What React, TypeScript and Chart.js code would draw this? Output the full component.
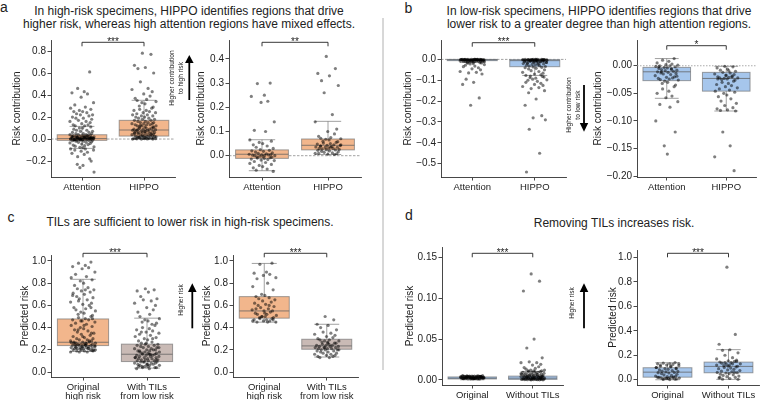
import React, { useEffect, useRef } from 'react';
import { Chart, registerables } from 'chart.js';

Chart.register(...registerables);

// ---------------- DATA ----------------
const LABELS_AB = ['Attention', 'HIPPO'];
const LABELS_C = [['Original', 'high risk'], ['With TILs', 'from low risk']];
const LABELS_D = ['Original', 'Without TILs'];

// box stats per group: [whisker low, q1, median, q3, whisker high]
const A1_BOX = [[-0.085, -0.012, 0.004, 0.039, 0.115], [0.0, 0.027, 0.082, 0.17, 0.352]];
const A2_BOX = [[-0.062, -0.011, 0.006, 0.024, 0.066], [0.005, 0.024, 0.043, 0.069, 0.142]];
const B1_BOX = [[-0.015, -0.006, -0.002, 0.0, 0.0], [-0.077, -0.035, -0.006, -0.001, 0.0]];
const B2_BOX = [[-0.059, -0.027, -0.011, -0.003, 0.013], [-0.082, -0.046, -0.023, -0.012, -0.001]];
const C1_BOX = [[0.185, 0.238, 0.268, 0.478, 0.835], [0.035, 0.094, 0.16, 0.251, 0.485]];
const C2_BOX = [[0.449, 0.485, 0.55, 0.679, 0.978], [0.135, 0.205, 0.235, 0.295, 0.43]];
const D1_BOX = [[0.0, 0.001, 0.002, 0.0035, 0.0048], [0.0, 0.0005, 0.002, 0.0045, 0.0102]];
const D2_BOX = [[0.0, 0.021, 0.062, 0.098, 0.139], [0.003, 0.057, 0.109, 0.144, 0.246]];

const A1_ATTENTION = [
  0.61, 0.46, 0.43, 0.42, 0.41, 0.38, 0.33, 0.31, 0.29, 0.28, 0.27, 0.26, 0.25, 0.25, 0.24, 0.23,
  0.22, 0.22, 0.21, 0.2, 0.19, 0.19, 0.18, 0.17, 0.16, 0.16, 0.15, 0.14, 0.13, 0.13, 0.12, 0.12,
  -0.3, -0.26, -0.24, -0.23, -0.2, -0.18, -0.16, -0.14, -0.13, -0.12, -0.11, -0.1, -0.1, -0.09, -0.09,
  0.11, 0.1, 0.1, 0.09, 0.08, 0.08, 0.07, 0.07, 0.06, 0.06, 0.05, 0.05, 0.05, 0.04, 0.04, 0.04, 0.035,
  0.03, 0.03, 0.03, 0.025, 0.02, 0.02, 0.02, 0.02, 0.015, 0.015, 0.01, 0.01, 0.01, 0.01, 0.005, 0.005,
  0.005, 0.0, 0.0, 0.0, 0.0, 0.0, -0.005, -0.005, -0.005, -0.01, -0.01, -0.01, -0.015, -0.015, -0.02,
  -0.02, -0.025, -0.03, -0.03, -0.035, -0.04, -0.045, -0.05, -0.055, -0.06, -0.065, -0.07, -0.075,
  -0.08, 0.012, 0.008, 0.003, -0.002, 0.018, 0.022, 0.028, 0.001, 0.006, -0.004, 0.014, 0.002,
  0.009, 0.004, -0.001, -0.007, 0.016, 0.024, 0.011, -0.003, 0.007, 0.019,
];
const A1_HIPPO = [
  0.78, 0.77, 0.67, 0.65, 0.64, 0.6, 0.52, 0.46, 0.45, 0.43, 0.41, 0.39, 0.37, 0.36,
  0.35, 0.34, 0.33, 0.32, 0.3, 0.29, 0.28, 0.27, 0.26, 0.26, 0.25, 0.24, 0.24, 0.23, 0.22, 0.22,
  0.21, 0.21, 0.2, 0.2, 0.19, 0.19, 0.18, 0.18, 0.17, 0.17, 0.16, 0.16, 0.15, 0.15, 0.15, 0.14,
  0.14, 0.14, 0.13, 0.13, 0.13, 0.12, 0.12, 0.12, 0.11, 0.11, 0.11, 0.1, 0.1, 0.1, 0.09, 0.09,
  0.09, 0.085, 0.08, 0.08, 0.08, 0.075, 0.07, 0.07, 0.07, 0.065, 0.06, 0.06, 0.06, 0.055, 0.05,
  0.05, 0.05, 0.045, 0.04, 0.04, 0.04, 0.035, 0.03, 0.03, 0.03, 0.025, 0.02, 0.02, 0.02, 0.015,
  0.015, 0.01, 0.01, 0.01, 0.008, 0.005, 0.005, 0.005, 0.003, 0.002, 0.001, 0.0, 0.0, 0.0,
  0.004, 0.007, 0.012, 0.018, 0.024, 0.033, 0.044, 0.058, 0.068, 0.088, 0.105, 0.125,
];
const A2_ATTENTION = [
  0.3, 0.298, 0.25, 0.245, 0.225, 0.22, 0.14, 0.105, 0.1, 0.065, 0.06, 0.055, 0.05, 0.045, 0.04,
  0.035, 0.03, 0.025, 0.022, 0.02, 0.018, 0.015, 0.012, 0.01, 0.008, 0.006, 0.005, 0.004, 0.003,
  0.002, 0.001, 0.0, 0.0, -0.002, -0.004, -0.005, -0.006, -0.008, -0.01, -0.012, -0.014, -0.016,
  -0.018, -0.02, -0.024, -0.028, -0.032, -0.036, -0.04, -0.045, -0.05, -0.055, -0.06, -0.065,
];
const A2_HIPPO = [
  0.41, 0.36, 0.34, 0.33, 0.31, 0.29, 0.26, 0.17, 0.14, 0.11, 0.1, 0.09, 0.08, 0.075, 0.072, 0.07,
  0.068, 0.065, 0.06, 0.058, 0.055, 0.052, 0.05, 0.048, 0.045, 0.043, 0.042, 0.04, 0.038, 0.036,
  0.035, 0.034, 0.032, 0.03, 0.03, 0.028, 0.026, 0.025, 0.024, 0.022, 0.02, 0.018, 0.016, 0.014,
  0.012, 0.01, 0.008, 0.006, 0.005, 0.01, 0.035, 0.04, 0.045,
];
const B1_ATTENTION = [
  0, 0, 0, 0, 0, 0, -0.001, -0.001, -0.001, -0.001, -0.002, -0.002, -0.002, -0.002, -0.003, -0.003,
  -0.003, -0.004, -0.004, -0.004, -0.005, -0.005, -0.005, -0.006, -0.006, -0.007, -0.007, -0.008,
  -0.008, -0.009, -0.01, -0.01, -0.011, -0.012, -0.013, -0.014, -0.001, -0.002, -0.003, 0, -0.001,
  -0.002, -0.004, -0.006, 0, 0, -0.001, -0.003, -0.005, -0.002, -0.001, 0, -0.002, -0.004,
  -0.22, -0.185, -0.12, -0.11, -0.095, -0.07, -0.065, -0.062, -0.058, -0.05, -0.045, -0.04, -0.035,
  -0.032, -0.028, -0.025, -0.022, -0.02, -0.018, -0.017, -0.016,
];
const B1_HIPPO = [
  0, 0, 0, 0, -0.001, -0.001, -0.001, -0.002, -0.002, -0.002, -0.003, -0.003, -0.004, -0.004,
  -0.005, -0.005, -0.006, -0.006, -0.007, -0.008, -0.009, -0.01, -0.011, -0.012, -0.013, -0.014,
  -0.015, -0.016, -0.018, -0.02, -0.022, -0.024, -0.026, -0.028, -0.03, -0.032, -0.034, -0.036,
  -0.038, -0.04, -0.043, -0.046, -0.05, -0.054, -0.058, -0.062, -0.066, -0.07, -0.074, -0.077, 0,
  -0.001, -0.002, -0.003, -0.004, -0.005, -0.001, -0.002, -0.003, -0.006, -0.008, -0.01, -0.012,
  -0.015, -0.02, -0.025, -0.002, -0.004, -0.001, 0,
  -0.54, -0.45, -0.335, -0.29, -0.28, -0.27, -0.22, -0.19, -0.16, -0.15, -0.14, -0.135, -0.13,
  -0.125, -0.12, -0.115, -0.11, -0.105, -0.1, -0.098, -0.095, -0.09, -0.088, -0.085, -0.082, -0.08,
];
const B2_ATTENTION = [
  0.013, 0.01, 0.008, 0.005, 0.003, 0.002, 0.001, 0.0, 0.0, -0.001, -0.002, -0.003, -0.004, -0.005,
  -0.006, -0.007, -0.008, -0.009, -0.01, -0.011, -0.012, -0.013, -0.014, -0.015, -0.016, -0.018,
  -0.02, -0.021, -0.022, -0.023, -0.024, -0.025, -0.026, -0.028, -0.03, -0.032, -0.035, -0.038,
  -0.042, -0.046, -0.05, -0.055, -0.058, -0.065, -0.07, -0.075, -0.1, -0.12, -0.145, -0.16, -0.002,
  -0.006, -0.011, -0.019,
];
const B2_HIPPO = [
  -0.001, -0.002, -0.004, -0.006, -0.008, -0.01, -0.012, -0.013, -0.015, -0.016, -0.018, -0.019,
  -0.02, -0.021, -0.022, -0.022, -0.023, -0.024, -0.025, -0.026, -0.028, -0.03, -0.032, -0.034,
  -0.036, -0.038, -0.04, -0.042, -0.044, -0.046, -0.048, -0.05, -0.053, -0.056, -0.06, -0.064,
  -0.068, -0.072, -0.076, -0.078, -0.08, -0.081, -0.082, -0.12, -0.145, -0.165, -0.19, -0.017,
  -0.02, -0.024, -0.009,
];
const C1_ORIGINAL = [
  0.99, 0.98, 0.96, 0.95, 0.94, 0.93, 0.9, 0.88, 0.86, 0.85, 0.83, 0.82, 0.8, 0.78, 0.76, 0.75,
  0.74, 0.73, 0.72, 0.71, 0.7, 0.68, 0.67, 0.66, 0.65, 0.63, 0.62, 0.61, 0.6, 0.58, 0.57, 0.56,
  0.55, 0.54, 0.53, 0.52, 0.51, 0.5, 0.49, 0.48, 0.47, 0.47, 0.46, 0.45, 0.44, 0.43, 0.42, 0.41,
  0.4, 0.39, 0.38, 0.37, 0.36, 0.35, 0.34, 0.33, 0.32, 0.31, 0.3, 0.3, 0.29, 0.29, 0.28, 0.28,
  0.27, 0.27, 0.27, 0.26, 0.26, 0.26, 0.25, 0.25, 0.25, 0.25, 0.24, 0.24, 0.24, 0.24, 0.23, 0.23,
  0.23, 0.23, 0.22, 0.22, 0.22, 0.22, 0.21, 0.21, 0.21, 0.21, 0.2, 0.2, 0.2, 0.2, 0.19, 0.19, 0.19,
  0.18, 0.18, 0.18, 0.35, 0.32, 0.28, 0.26, 0.24, 0.22, 0.2, 0.46, 0.42, 0.38, 0.48, 0.58, 0.64,
  0.74, 0.69, 0.215, 0.225, 0.235, 0.245, 0.255, 0.265, 0.195, 0.205,
];
const C1_WITH_TILS = [
  0.75, 0.74, 0.73, 0.72, 0.68, 0.66, 0.65, 0.64, 0.62, 0.6, 0.58, 0.56, 0.54, 0.52, 0.5, 0.48,
  0.47, 0.46, 0.45, 0.44, 0.42, 0.4, 0.39, 0.38, 0.37, 0.36, 0.35, 0.34, 0.33, 0.32, 0.31, 0.3,
  0.29, 0.28, 0.27, 0.26, 0.25, 0.25, 0.24, 0.24, 0.23, 0.23, 0.22, 0.22, 0.21, 0.21, 0.2, 0.2,
  0.2, 0.19, 0.19, 0.18, 0.18, 0.18, 0.17, 0.17, 0.17, 0.16, 0.16, 0.16, 0.15, 0.15, 0.15, 0.14,
  0.14, 0.14, 0.13, 0.13, 0.13, 0.12, 0.12, 0.12, 0.11, 0.11, 0.11, 0.1, 0.1, 0.1, 0.09, 0.09,
  0.09, 0.08, 0.08, 0.08, 0.07, 0.07, 0.07, 0.06, 0.06, 0.06, 0.05, 0.05, 0.05, 0.04, 0.04, 0.04,
  0.03, 0.03, 0.3, 0.26, 0.22, 0.19, 0.16, 0.13, 0.11, 0.09, 0.07, 0.05, 0.43, 0.36,
];
const C2_ORIGINAL = [
  0.98, 0.97, 0.9, 0.89, 0.88, 0.87, 0.85, 0.84, 0.8, 0.77, 0.74, 0.7, 0.69, 0.68, 0.67, 0.66,
  0.65, 0.64, 0.63, 0.62, 0.61, 0.6, 0.59, 0.58, 0.57, 0.56, 0.55, 0.55, 0.54, 0.53, 0.52, 0.52,
  0.51, 0.5, 0.5, 0.49, 0.49, 0.48, 0.48, 0.47, 0.47, 0.46, 0.46, 0.45, 0.45, 0.45, 0.46, 0.47,
  0.5, 0.53, 0.57, 0.6,
];
const C2_WITH_TILS = [
  0.5, 0.47, 0.43, 0.42, 0.4, 0.38, 0.36, 0.35, 0.34, 0.33, 0.32, 0.31, 0.3, 0.29, 0.29, 0.28,
  0.28, 0.27, 0.27, 0.26, 0.26, 0.25, 0.25, 0.24, 0.24, 0.24, 0.23, 0.23, 0.23, 0.22, 0.22, 0.22,
  0.21, 0.21, 0.21, 0.2, 0.2, 0.2, 0.19, 0.19, 0.18, 0.18, 0.17, 0.17, 0.16, 0.16, 0.15, 0.15,
  0.14, 0.14, 0.13, 0.13, 0.2, 0.22, 0.26,
];
const D1_ORIGINAL = [
  0.001, 0.0012, 0.0015, 0.0018, 0.002, 0.0022, 0.0025, 0.0028, 0.003, 0.0032, 0.0035, 0.0038,
  0.004, 0.0042, 0.0045, 0.0048, 0.005, 0.0011, 0.0014, 0.0017, 0.0021, 0.0024, 0.0027, 0.0031,
  0.0034, 0.0037, 0.0041, 0.0044, 0.0047, 0.0013, 0.0016, 0.0019, 0.0023, 0.0026, 0.0029, 0.0033,
  0.0036, 0.0039, 0.0043, 0.0046, 0.0049, 0.001, 0.002, 0.003, 0.004, 0.0015, 0.0025, 0.0035,
  0.0045, 0.0012, 0.0022, 0.0032, 0.0042, 0.0018, 0.0028, 0.0038, 0.0048, 0.0014, 0.0024, 0.0034,
];
const D1_WITHOUT_TILS = [
  0.13, 0.121, 0.109, 0.05, 0.039, 0.027, 0.022, 0.021, 0.021, 0.019, 0.018, 0.016, 0.015, 0.014,
  0.013, 0.012, 0.012, 0.011, 0.011, 0.011, 0.01, 0.01, 0.01, 0.009, 0.009, 0.009, 0.008, 0.008,
  0.008, 0.007, 0.007, 0.007, 0.006, 0.006, 0.006, 0.006, 0.005, 0.005, 0.005, 0.005, 0.005, 0.004,
  0.004, 0.004, 0.004, 0.004, 0.003, 0.003, 0.003, 0.003, 0.003, 0.003, 0.002, 0.002, 0.002, 0.002,
  0.002, 0.002, 0.002, 0.001, 0.001, 0.001, 0.001, 0.001, 0.001, 0.0005, 0.0005, 0.0005, 0.0003,
  0.0003, 0.0002, 0.0001, 0.0001, 0, 0, 0, 0.0015, 0.0025, 0.0035, 0.0045, 0.0055, 0.0065, 0.0075,
  0.0012, 0.0022, 0.0032,
];
const D2_ORIGINAL = [
  0.14, 0.135, 0.13, 0.13, 0.125, 0.12, 0.115, 0.11, 0.105, 0.1, 0.095, 0.09, 0.085, 0.08, 0.075,
  0.07, 0.068, 0.065, 0.06, 0.058, 0.055, 0.05, 0.045, 0.04, 0.035, 0.03, 0.028, 0.025, 0.022, 0.02,
  0.018, 0.016, 0.014, 0.012, 0.01, 0.008, 0.006, 0.004, 0.002, 0.001, 0.02, 0.015, 0.01, 0.13,
  0.12, 0.11, 0.1, 0.09,
];
const D2_WITHOUT_TILS = [
  0.92, 0.37, 0.29, 0.245, 0.24, 0.22, 0.2, 0.18, 0.17, 0.16, 0.155, 0.15, 0.145, 0.14, 0.135,
  0.13, 0.125, 0.12, 0.115, 0.11, 0.105, 0.1, 0.095, 0.09, 0.085, 0.08, 0.075, 0.07, 0.065, 0.06,
  0.058, 0.055, 0.05, 0.045, 0.04, 0.035, 0.03, 0.025, 0.02, 0.015, 0.01, 0.005, 0.003, 0.14, 0.13,
  0.12, 0.15, 0.11, 0.06, 0.02,
];

const TICKS_A1 = [-0.2, 0, 0.2, 0.4, 0.6, 0.8];
const TICKS_A2 = [0, 0.1, 0.2, 0.3, 0.4];
const TICKS_B1 = [-0.5, -0.4, -0.3, -0.2, -0.1, 0];
const TICKS_B2 = [-0.2, -0.15, -0.1, -0.05, 0];
const TICKS_C = [0, 0.2, 0.4, 0.6, 0.8, 1.0];
const TICKS_D1 = [0, 0.05, 0.1, 0.15];
const TICKS_D2 = [0, 0.2, 0.4, 0.6, 0.8, 1.0];

// stripplot jitter pattern (fraction of max jitter)
const JITTER = [
  0.62, -0.35, 0.18, -0.81, 0.44, -0.07, 0.93, -0.58, 0.27, -0.92, 0.71, -0.21, 0.05, -0.66, 0.39,
  -0.44, 0.85, -0.13, 0.56, -0.77, 0.11, -0.49, 0.78, -0.29, 0.33, -0.97, 0.66, -0.02, 0.49, -0.71,
  0.21, -0.55, 0.97, -0.17, 0.08, -0.38, 0.74,
];

// ---------------- STYLE ----------------
const FONT = '"Liberation Sans", Arial, Helvetica, sans-serif';
const ORANGE = '#f2b68c';
const BLUE = '#a6c6ec';
const TAUPE = '#c9bab5';
const EDGE = 'rgba(110,110,110,0.65)';
const MEDIAN = 'rgba(95,95,95,0.75)';
const AXIS = '#333333';
const TEXT = '#222222';
const YW = 45;
const PT = 20;
const PR = 3;
const XH = 30;
const JIT = 0.2;
const BOX_HALF = 0.4;
const CAP_HALF = 0.2;

type Panel = {
  id: string;
  L: number; T: number; R: number; B: number;
  yMin: number; yMax: number; ticks: number[]; dec: number;
  yTitle: string; titlePad: number;
  groups: number[][]; boxes: number[][]; colors: string[];
  labels: (string | string[])[];
  bracketDy: number; stars: string; zero?: 'dash' | 'dot';
};

const PANELS: Panel[] = [
  { id: 'a1', L: 50.7, T: 40, R: 176, B: 177, yMin: -0.345, yMax: 0.9, ticks: TICKS_A1, dec: 1,
    yTitle: 'Risk contribution', titlePad: 5.3, groups: [A1_ATTENTION, A1_HIPPO], boxes: A1_BOX,
    colors: [ORANGE, ORANGE], labels: LABELS_AB, bracketDy: 2.3, stars: '***', zero: 'dash' },
  { id: 'a2', L: 229, T: 40, R: 362, B: 177, yMin: -0.088, yMax: 0.478, ticks: TICKS_A2, dec: 1,
    yTitle: 'Risk contribution', titlePad: 11.7, groups: [A2_ATTENTION, A2_HIPPO], boxes: A2_BOX,
    colors: [ORANGE, ORANGE], labels: LABELS_AB, bracketDy: 2.3, stars: '**', zero: 'dash' },
  { id: 'b1', L: 440.7, T: 40, R: 567, B: 176.7, yMin: -0.564, yMax: 0.093, ticks: TICKS_B1, dec: 1,
    yTitle: 'Risk contribution', titlePad: 6.6, groups: [B1_ATTENTION, B1_HIPPO], boxes: B1_BOX,
    colors: [BLUE, BLUE], labels: LABELS_AB, bracketDy: 2.7, stars: '***', zero: 'dash' },
  { id: 'b2', L: 636.7, T: 40, R: 757, B: 176.7, yMin: -0.2015, yMax: 0.0466, ticks: TICKS_B2, dec: 2,
    yTitle: 'Risk contribution', titlePad: 0.6, groups: [B2_ATTENTION, B2_HIPPO], boxes: B2_BOX,
    colors: [BLUE, BLUE], labels: LABELS_AB, bracketDy: 5.7, stars: '*', zero: 'dot' },
  { id: 'c1', L: 50.7, T: 255, R: 180, B: 376.7, yMin: -0.045, yMax: 1.054, ticks: TICKS_C, dec: 1,
    yTitle: 'Predicted risk', titlePad: 13.3, groups: [C1_ORIGINAL, C1_WITH_TILS], boxes: C1_BOX,
    colors: [ORANGE, TAUPE], labels: LABELS_C, bracketDy: -1.7, stars: '***' },
  { id: 'c2', L: 232.7, T: 255, R: 358.3, B: 376.7, yMin: -0.045, yMax: 1.054, ticks: TICKS_C, dec: 1,
    yTitle: 'Predicted risk', titlePad: 13, groups: [C2_ORIGINAL, C2_WITH_TILS], boxes: C2_BOX,
    colors: [ORANGE, TAUPE], labels: LABELS_C, bracketDy: -1.7, stars: '***' },
  { id: 'd1', L: 441.7, T: 247, R: 564, B: 384.5, yMin: -0.0064, yMax: 0.163, ticks: TICKS_D1, dec: 2,
    yTitle: 'Predicted risk', titlePad: 7.3, groups: [D1_ORIGINAL, D1_WITHOUT_TILS], boxes: D1_BOX,
    colors: [BLUE, BLUE], labels: LABELS_D, bracketDy: 6.3, stars: '***' },
  { id: 'd2', L: 637.3, T: 250, R: 760, B: 384.5, yMin: -0.043, yMax: 1.06, ticks: TICKS_D2, dec: 1,
    yTitle: 'Predicted risk', titlePad: 15, groups: [D2_ORIGINAL, D2_WITHOUT_TILS], boxes: D2_BOX,
    colors: [BLUE, BLUE], labels: LABELS_D, bracketDy: 3.3, stars: '***' },
];

function SubChart({ p }: { p: Panel }) {
  const ref = useRef<HTMLCanvasElement>(null);
  const width = Math.round(p.R - p.L + YW + PR);
  const height = Math.round(p.B - p.T + PT + XH);
  useEffect(() => {
    const canvas = ref.current;
    if (!canvas) return;
    const plugin = {
      id: 'boxes_' + p.id,
      beforeDatasetsDraw(chart: any) {
        const { ctx, chartArea: ca, scales } = chart;
        const x = scales.x;
        const y = scales.y;
        ctx.save();
        if (p.zero) {
          const y0 = y.getPixelForValue(0);
          ctx.strokeStyle = p.zero === 'dash' ? 'rgba(90,90,90,0.8)' : 'rgba(150,150,150,0.8)';
          ctx.lineWidth = p.zero === 'dash' ? 0.7 : 1.1;
          ctx.setLineDash(p.zero === 'dash' ? [2.5, 1.5] : [1.5, 1.5]);
          ctx.beginPath();
          ctx.moveTo(ca.left, y0);
          ctx.lineTo(ca.right, y0);
          ctx.stroke();
          ctx.setLineDash([]);
        }
        p.boxes.forEach((b, g) => {
          const cx = x.getPixelForValue(g);
          const hw = x.getPixelForValue(g + BOX_HALF) - cx;
          const cw = x.getPixelForValue(g + CAP_HALF) - cx;
          const [lo, q1, med, q3, hi] = b.map((v) => y.getPixelForValue(v));
          ctx.fillStyle = p.colors[g];
          ctx.fillRect(cx - hw, q3, 2 * hw, q1 - q3);
          ctx.strokeStyle = EDGE;
          ctx.lineWidth = 1;
          ctx.strokeRect(cx - hw, q3, 2 * hw, q1 - q3);
          ctx.beginPath();
          ctx.moveTo(cx, q3);
          ctx.lineTo(cx, hi);
          ctx.moveTo(cx, q1);
          ctx.lineTo(cx, lo);
          ctx.moveTo(cx - cw, hi);
          ctx.lineTo(cx + cw, hi);
          ctx.moveTo(cx - cw, lo);
          ctx.lineTo(cx + cw, lo);
          ctx.stroke();
          ctx.strokeStyle = MEDIAN;
          ctx.beginPath();
          ctx.moveTo(cx - hw, med);
          ctx.lineTo(cx + hw, med);
          ctx.stroke();
        });
        ctx.restore();
      },
      afterDraw(chart: any) {
        const { ctx, chartArea: ca, scales } = chart;
        const x0 = scales.x.getPixelForValue(0);
        const x1 = scales.x.getPixelForValue(1);
        const by = ca.top + p.bracketDy;
        ctx.save();
        ctx.strokeStyle = '#222';
        ctx.lineWidth = 0.9;
        ctx.beginPath();
        ctx.moveTo(x0, by + 4);
        ctx.lineTo(x0, by);
        ctx.lineTo(x1, by);
        ctx.lineTo(x1, by + 4);
        ctx.stroke();
        ctx.fillStyle = '#222';
        ctx.font = `10px ${FONT}`;
        ctx.textAlign = 'center';
        ctx.textBaseline = 'alphabetic';
        ctx.fillText(p.stars, (x0 + x1) / 2, by + 2.5);
        ctx.restore();
      },
    };

    const datasets = p.groups.map((vals, g) => ({
      data: vals.map((v, i) => ({ x: g + JITTER[(i + g * 17) % JITTER.length] * JIT, y: v })),
      backgroundColor: 'rgba(0,0,0,0.5)',
      pointBackgroundColor: 'rgba(0,0,0,0.5)',
      pointBorderWidth: 0,
      borderWidth: 0,
      pointRadius: 1.6,
      showLine: false,
    }));

    const gridCommon = {
      display: true,
      drawOnChartArea: false,
      drawTicks: true,
      tickLength: 3.5,
      color: AXIS,
      lineWidth: 0.9,
    };

    const chart = new Chart(canvas, {
      type: 'scatter',
      data: { datasets },
      options: {
        animation: false,
        responsive: false,
        maintainAspectRatio: false,
        events: [],
        layout: { padding: { top: PT, right: PR, left: 0, bottom: 0 } },
        plugins: { legend: { display: false }, tooltip: { enabled: false } },
        scales: {
          x: {
            type: 'linear',
            min: -0.5,
            max: 1.5,
            afterBuildTicks: (s: any) => {
              s.ticks = p.labels.map((_, i) => ({ value: i }));
            },
            afterFit: (s: any) => {
              s.height = XH;
            },
            ticks: {
              autoSkip: false,
              maxRotation: 0,
              minRotation: 0,
              padding: 2,
              color: TEXT,
              font: { family: FONT, size: 9.5, lineHeight: 0.97 },
              callback: (v: any) => p.labels[Math.round(Number(v))] as any,
            },
            grid: gridCommon,
            border: { display: true, color: AXIS, width: 0.9 },
          },
          y: {
            type: 'linear',
            min: p.yMin,
            max: p.yMax,
            afterBuildTicks: (s: any) => {
              s.ticks = p.ticks.map((v) => ({ value: v }));
            },
            afterFit: (s: any) => {
              s.width = YW;
            },
            ticks: {
              autoSkip: false,
              padding: 1.5,
              color: TEXT,
              font: { family: FONT, size: 10 },
              callback: (v: any) => Number(v).toFixed(p.dec).replace('-', '\u2212'),
            },
            title: {
              display: true,
              text: p.yTitle,
              color: TEXT,
              font: { family: FONT, size: 10, lineHeight: 1.2 },
              padding: { top: p.titlePad, bottom: 0 },
            },
            grid: gridCommon,
            border: { display: true, color: AXIS, width: 0.9 },
          },
        },
      } as any,
      plugins: [plugin],
    });
    return () => chart.destroy();
  }, []);
  return (
    <canvas
      ref={ref}
      width={width}
      height={height}
      style={{
        position: 'absolute',
        left: p.L - YW,
        top: p.T - PT,
        width,
        height,
      }}
    />
  );
}

function Rot({ x, y, lines, size, lh }: { x: number; y: number; lines: string[]; size: number; lh: number }) {
  return (
    <div
      style={{
        position: 'absolute',
        left: x,
        top: y,
        transform: 'translate(-50%, -50%) rotate(-90deg)',
        whiteSpace: 'nowrap',
        textAlign: 'center',
        fontSize: size,
        lineHeight: `${lh}px`,
      }}
    >
      {lines.map((l, i) => (
        <div key={i}>{l}</div>
      ))}
    </div>
  );
}

function Title({ cx, top, lines }: { cx: number; top: number; lines: string[] }) {
  return (
    <div
      style={{
        position: 'absolute',
        left: cx - 200,
        top,
        width: 400,
        textAlign: 'center',
        fontSize: 12,
        lineHeight: '13px',
        whiteSpace: 'nowrap',
      }}
    >
      {lines.map((l, i) => (
        <div key={i}>{l}</div>
      ))}
    </div>
  );
}

function Letter({ x, y, ch }: { x: number; y: number; ch: string }) {
  return (
    <div style={{ position: 'absolute', left: x, top: y, fontSize: 14, lineHeight: '14px' }}>{ch}</div>
  );
}

export default function App() {
  return (
    <div
      style={{
        position: 'absolute',
        left: 0,
        top: 0,
        width: 763,
        height: 400,
        overflow: 'hidden',
        background: '#fff',
        fontFamily: FONT,
        color: TEXT,
      }}
    >
      <Letter x={0} y={0} ch="a" />
      <Letter x={404.5} y={1.2} ch="b" />
      <Letter x={7.5} y={210} ch="c" />
      <Letter x={405} y={208} ch="d" />
      <Title
        cx={189}
        top={4.8}
        lines={[
          'In high-risk specimens, HIPPO identifies regions that drive',
          'higher risk, whereas high attention regions have mixed effects.',
        ]}
      />
      <Title
        cx={599}
        top={4.8}
        lines={[
          'In low-risk specimens, HIPPO identifies regions that drive',
          'lower risk to a greater degree than high attention regions.',
        ]}
      />
      <Title cx={190} top={216} lines={['TILs are sufficient to lower risk in high-risk specimens.']} />
      <Title cx={614} top={217} lines={['Removing TILs increases risk.']} />

      {PANELS.map((p) => (
        <SubChart key={p.id} p={p} />
      ))}

      <svg
        width={763}
        height={400}
        style={{ position: 'absolute', left: 0, top: 0, pointerEvents: 'none' }}
      >
        <line x1={383} y1={18} x2={383} y2={370} stroke="#b0b0b0" strokeWidth={1} />
        <line x1={189.3} y1={100} x2={189.3} y2={62} stroke="#000" strokeWidth={1.8} />
        <polygon points="185,63 193.6,63 189.3,55" fill="#000" />
        <line x1={584} y1={85} x2={584} y2={124} stroke="#000" strokeWidth={1.8} />
        <polygon points="579.8,123 588.2,123 584,131.7" fill="#000" />
        <line x1={192.3} y1={328.3} x2={192.3} y2={291} stroke="#000" strokeWidth={1.8} />
        <polygon points="188,292 196.6,292 192.3,283.3" fill="#000" />
        <line x1={584} y1={328.3} x2={584} y2={291} stroke="#000" strokeWidth={1.8} />
        <polygon points="579.7,292 588.3,292 584,283.3" fill="#000" />
      </svg>

      <Rot x={176.4} y={78.3} lines={['Higher contribution', 'to high risk']} size={6.6} lh={9} />
      <Rot x={572.5} y={105} lines={['Higher contribution', 'to low risk']} size={6.6} lh={8.5} />
      <Rot x={180} y={299.5} lines={['Higher risk']} size={6.6} lh={9} />
      <Rot x={571} y={302.5} lines={['Higher risk']} size={6.6} lh={9} />
    </div>
  );
}
